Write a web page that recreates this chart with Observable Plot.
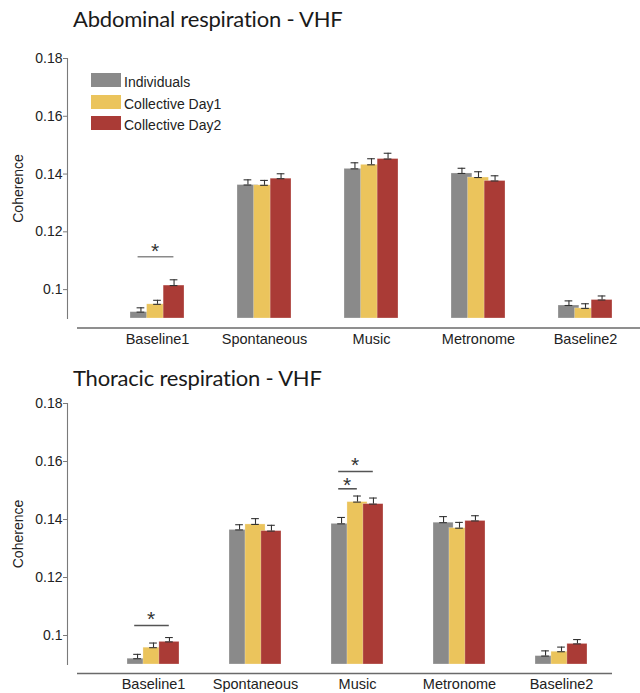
<!DOCTYPE html>
<html>
<head>
<meta charset="utf-8">
<script src="https://cdn.jsdelivr.net/npm/d3@7"></script>
<script src="https://cdn.jsdelivr.net/npm/@observablehq/plot@0.6"></script>
<style>
  body { margin: 0; background: #fff; }
  #wrap { position: relative; width: 640px; height: 693px; overflow: hidden; font-family: "Liberation Sans", Arial, sans-serif; color: #222; }
  .title { position: absolute; left: 73px; font-family: Lato, sans-serif; font-size: 22px; letter-spacing: -0.2px; line-height: 26px; color: #1a1a1a; white-space: nowrap; }
  .panel { position: absolute; left: 0; }
  .panel svg { overflow: visible; }
  .lg-sw { position: absolute; left: 91.4px; width: 29.4px; height: 14px; }
  .lg-tx { position: absolute; left: 124px; font-size: 14px; line-height: 14px; white-space: nowrap; color: #222; }
</style>
</head>
<body>
<div id="wrap"></div>
<script>
// ---------- data ----------
const categories = ["Baseline1", "Spontaneous", "Music", "Metronome", "Baseline2"];
const seriesNames = ["Individuals", "Collective Day1", "Collective Day2"];
const seriesColors = ["#8a8a8a", "#ebc45c", "#aa3b36"];
const yTicks = [0.1, 0.12, 0.14, 0.16, 0.18];
const yDomain = [0.09, 0.18];
const yLabel = "Coherence";

const abdominalTitle = "Abdominal respiration - VHF";
const abdominalIndividuals = [0.0922, 0.1362, 0.1418, 0.1402, 0.0945];
const abdominalDay1        = [0.0949, 0.1361, 0.1432, 0.1388, 0.0935];
const abdominalDay2        = [0.1014, 0.1384, 0.1452, 0.1376, 0.0964];
const abdominalIndividualsErr = [0.0015, 0.0018, 0.0021, 0.0018, 0.0016];
const abdominalDay1Err        = [0.0014, 0.0017, 0.0021, 0.0020, 0.0016];
const abdominalDay2Err        = [0.0020, 0.0017, 0.0020, 0.0018, 0.0014];
const abdominalSig = [
  {category: "Baseline1", from: 0, to: 2, line: 0.1114, star: 0.1149}
];

const thoracicTitle = "Thoracic respiration - VHF";
const thoracicIndividuals = [0.0920, 0.1364, 0.1385, 0.1389, 0.0929];
const thoracicDay1        = [0.0958, 0.1383, 0.1460, 0.1370, 0.0944];
const thoracicDay2        = [0.0978, 0.1360, 0.1453, 0.1395, 0.0971];
const thoracicIndividualsErr = [0.0015, 0.0018, 0.0022, 0.0021, 0.0018];
const thoracicDay1Err        = [0.0016, 0.0020, 0.0021, 0.0020, 0.0016];
const thoracicDay2Err        = [0.0015, 0.0020, 0.0021, 0.0018, 0.0015];
const thoracicSig = [
  {category: "Baseline1", from: 0, to: 2, line: 0.10345, star: 0.1072},
  {category: "Music", from: 0, to: 1, line: 0.15059, star: 0.1534},
  {category: "Music", from: 0, to: 2, line: 0.15655, star: 0.1603}
];

function buildRows(means, errs) {
  const rows = [];
  means.forEach((arr, s) => arr.forEach((v, i) => rows.push({category: categories[i], series: seriesNames[s], s, value: v, err: errs[s][i]})));
  return rows;
}

const wrap = document.getElementById("wrap");

function addTitle(text, top) {
  const d = document.createElement("div");
  d.className = "title"; d.textContent = text; d.style.top = top + "px";
  wrap.appendChild(d);
}

function panel({rows, sig, top, height, marginTop, marginBottom, marginRight, range, groupWidth, axisGap, labelPad, sigStroke}) {
  const n = categories.length;
  const step = (range[1] - range[0] - groupWidth) / (n - 1);
  const pin = 1 - groupWidth / step;
  const bw = groupWidth;
  const w = 0.39 * bw, shift = 0.305 * bw;
  const center = s => s * shift + w / 2;   // bar centre offset within band
  const marks = [];
  marks.push(Plot.frame({anchor: "left", stroke: "#7a7a7a", strokeWidth: 1.1}));
  marks.push(Plot.axisY({ticks: yTicks, tickFormat: d => String(d), tickSize: 4, tickPadding: 1, fontSize: 14, stroke: "#7a7a7a", fill: "#222",
    label: yLabel, labelAnchor: "center", labelArrow: "none", labelOffset: 54}));
  marks.push(Plot.ruleY([yDomain[0]], {dy: axisGap, insetLeft: 10, stroke: "#6a6a6a", strokeWidth: 1.3}));
  marks.push(Plot.axisX({tickSize: 0, tickPadding: labelPad, fontSize: 14.5, fill: "#222", label: null}));
  for (let s = 0; s < 3; s++) {
    marks.push(Plot.barY(rows.filter(d => d.s === s), {
      x: "category", y1: yDomain[0], y2: "value", fill: seriesColors[s],
      insetLeft: s * shift, insetRight: bw - w - s * shift,
      stroke: "#fff", strokeOpacity: 0.45, strokeWidth: 0.6
    }));
  }
  for (let s = 0; s < 3; s++) {
    const data = rows.filter(d => d.s === s);
    const c = center(s);
    marks.push(Plot.ruleX(data, {x: "category", y1: "value", y2: d => d.value + d.err, dx: c - bw / 2, stroke: "#333", strokeWidth: 1.1}));
    marks.push(Plot.tickY(data, {x: "category", y: d => d.value + d.err, insetLeft: c - 4, insetRight: bw - c - 4, stroke: "#333", strokeWidth: 1.1}));
    marks.push(Plot.tickY(data, {x: "category", y: "value", insetLeft: c - 4, insetRight: bw - c - 4, stroke: "#333", strokeWidth: 1.1}));
  }
  sig.forEach(g => {
    const x0 = center(g.from) - 3, x1 = center(g.to);
    marks.push(Plot.tickY([g], {x: "category", y: "line", insetLeft: x0, insetRight: bw - x1, stroke: sigStroke, strokeWidth: 1.6}));
    marks.push(Plot.text([g], {x: "category", y: "star", text: () => "*", dx: (x0 + x1) / 2 - bw / 2 - 1, dy: 5, fontSize: 21, fill: "#333"}));
  });

  const chart = Plot.plot({
    width: 640, height, marginTop, marginBottom, marginLeft: 67, marginRight,
    x: {type: "band", domain: categories, range, paddingInner: pin, paddingOuter: 0},
    y: {domain: yDomain},
    style: {fontFamily: "'Liberation Sans', Arial, sans-serif", background: "transparent"},
    marks
  });
  const holder = document.createElement("div");
  holder.className = "panel"; holder.style.top = top + "px";
  holder.appendChild(chart);
  wrap.appendChild(holder);
}

// top panel
addTitle(abdominalTitle, 5.5);
panel({
  rows: buildRows([abdominalIndividuals, abdominalDay1, abdominalDay2], [abdominalIndividualsErr, abdominalDay1Err, abdominalDay2Err]),
  sig: abdominalSig, top: 40, height: 320, marginTop: 18, marginBottom: 42, marginRight: 0,
  range: [129.8, 613.1], groupWidth: 54.3, axisGap: 9.5, labelPad: 15, sigStroke: "#8a8a8a"
});
// legend
seriesNames.forEach((name, i) => {
  const top = [73.3, 94.7, 116][i];
  const sw = document.createElement("div");
  sw.className = "lg-sw"; sw.style.top = top + "px"; sw.style.background = seriesColors[i];
  wrap.appendChild(sw);
  const tx = document.createElement("div");
  tx.className = "lg-tx"; tx.style.top = (top + 2) + "px"; tx.textContent = name;
  wrap.appendChild(tx);
});

// bottom panel
addTitle(thoracicTitle, 365);
panel({
  rows: buildRows([thoracicIndividuals, thoracicDay1, thoracicDay2], [thoracicIndividualsErr, thoracicDay1Err, thoracicDay2Err]),
  sig: thoracicSig, top: 395, height: 298, marginTop: 8, marginBottom: 29, marginRight: 28,
  range: [127.3, 587.8], groupWidth: 52.3, axisGap: 9, labelPad: 14, sigStroke: "#555"
});
</script>
</body>
</html>
